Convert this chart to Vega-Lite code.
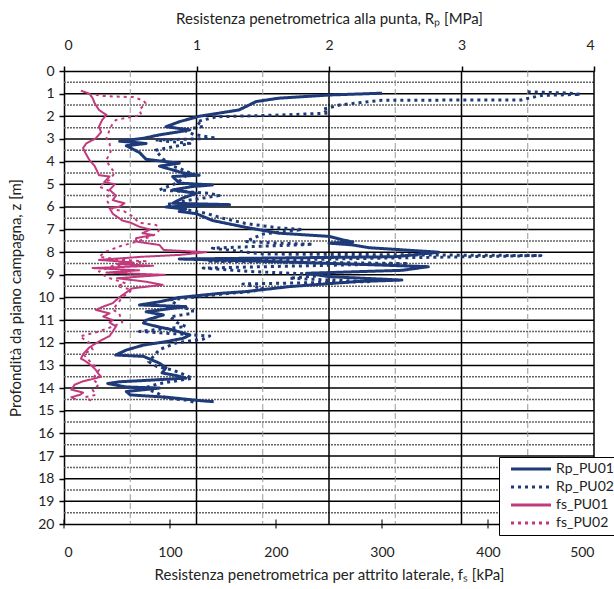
{
  "$schema": "https://vega.github.io/schema/vega-lite/v6.json",
  "width": 530,
  "height": 453,
  "autosize": "none",
  "padding": {"left": 64, "top": 71, "right": 20, "bottom": 65},
  "background": "white",
  "datasets": {
    "gridMajorZ": [{"z":1},{"z":2},{"z":3},{"z":4},{"z":5},{"z":6},{"z":7},{"z":8},{"z":9},{"z":10},{"z":11},{"z":12},{"z":13},{"z":14},{"z":15},{"z":16},{"z":17},{"z":18},{"z":19}],
    "gridMinorZ": [{"z":0.5},{"z":1.5},{"z":2.5},{"z":3.5},{"z":4.5},{"z":5.5},{"z":6.5},{"z":7.5},{"z":8.5},{"z":9.5},{"z":10.5},{"z":11.5},{"z":12.5},{"z":13.5},{"z":14.5},{"z":15.5},{"z":16.5},{"z":17.5},{"z":18.5},{"z":19.5}],
    "gridMajorX": [{"fs":125},{"fs":250},{"fs":375},{"fs":500}],
    "gridMinorX": [{"fs":62.5},{"fs":187.5},{"fs":312.5},{"fs":437.5}],
    "bottomTicks": [{"fs":0,"z":20},{"fs":100,"z":20},{"fs":200,"z":20},{"fs":300,"z":20},{"fs":400,"z":20},{"fs":500,"z":20}],
    "rp": [
      {"s":"Rp_PU01","z":0.98,"v":2.40},{"s":"Rp_PU01","z":1.06,"v":2.00},{"s":"Rp_PU01","z":1.20,"v":1.62},{"s":"Rp_PU01","z":1.35,"v":1.45},{"s":"Rp_PU01","z":1.55,"v":1.38},{"s":"Rp_PU01","z":1.72,"v":1.32},{"s":"Rp_PU01","z":1.86,"v":1.17},{"s":"Rp_PU01","z":2.00,"v":1.02},{"s":"Rp_PU01","z":2.24,"v":0.87},{"s":"Rp_PU01","z":2.35,"v":0.82},{"s":"Rp_PU01","z":2.46,"v":0.77},{"s":"Rp_PU01","z":2.60,"v":0.95},{"s":"Rp_PU01","z":2.70,"v":0.85},{"s":"Rp_PU01","z":2.82,"v":0.72},{"s":"Rp_PU01","z":2.97,"v":0.60},{"s":"Rp_PU01","z":3.10,"v":0.42},{"s":"Rp_PU01","z":3.20,"v":0.62},{"s":"Rp_PU01","z":3.30,"v":0.47},{"s":"Rp_PU01","z":3.60,"v":0.57},{"s":"Rp_PU01","z":3.90,"v":0.62},{"s":"Rp_PU01","z":4.07,"v":0.87},{"s":"Rp_PU01","z":4.20,"v":0.72},{"s":"Rp_PU01","z":4.50,"v":0.90},{"s":"Rp_PU01","z":4.60,"v":1.02},{"s":"Rp_PU01","z":4.66,"v":0.82},{"s":"Rp_PU01","z":4.95,"v":0.87},{"s":"Rp_PU01","z":5.03,"v":1.12},{"s":"Rp_PU01","z":5.10,"v":0.97},{"s":"Rp_PU01","z":5.25,"v":0.82},{"s":"Rp_PU01","z":5.40,"v":1.00},{"s":"Rp_PU01","z":5.60,"v":0.90},{"s":"Rp_PU01","z":5.84,"v":0.82},{"s":"Rp_PU01","z":5.90,"v":1.25},{"s":"Rp_PU01","z":6.00,"v":0.77},{"s":"Rp_PU01","z":6.10,"v":0.92},{"s":"Rp_PU01","z":6.20,"v":0.87},{"s":"Rp_PU01","z":6.30,"v":1.00},{"s":"Rp_PU01","z":6.60,"v":1.12},{"s":"Rp_PU01","z":6.90,"v":1.37},{"s":"Rp_PU01","z":7.16,"v":1.62},{"s":"Rp_PU01","z":7.30,"v":2.00},{"s":"Rp_PU01","z":7.45,"v":2.10},{"s":"Rp_PU01","z":7.55,"v":2.18},{"s":"Rp_PU01","z":7.60,"v":2.00},{"s":"Rp_PU01","z":7.68,"v":2.18},{"s":"Rp_PU01","z":7.80,"v":2.30},{"s":"Rp_PU01","z":8.00,"v":2.83},{"s":"Rp_PU01","z":8.20,"v":2.50},{"s":"Rp_PU01","z":8.30,"v":0.87},{"s":"Rp_PU01","z":8.40,"v":1.50},{"s":"Rp_PU01","z":8.55,"v":2.30},{"s":"Rp_PU01","z":8.64,"v":2.75},{"s":"Rp_PU01","z":8.80,"v":2.55},{"s":"Rp_PU01","z":8.93,"v":1.83},{"s":"Rp_PU01","z":9.08,"v":2.00},{"s":"Rp_PU01","z":9.23,"v":2.55},{"s":"Rp_PU01","z":9.30,"v":2.20},{"s":"Rp_PU01","z":9.52,"v":1.70},{"s":"Rp_PU01","z":9.74,"v":1.37},{"s":"Rp_PU01","z":9.82,"v":1.17},{"s":"Rp_PU01","z":10.00,"v":0.87},{"s":"Rp_PU01","z":10.19,"v":0.72},{"s":"Rp_PU01","z":10.33,"v":0.57},{"s":"Rp_PU01","z":10.40,"v":0.92},{"s":"Rp_PU01","z":10.63,"v":0.62},{"s":"Rp_PU01","z":10.77,"v":0.75},{"s":"Rp_PU01","z":11.00,"v":0.62},{"s":"Rp_PU01","z":11.13,"v":0.60},{"s":"Rp_PU01","z":11.28,"v":0.70},{"s":"Rp_PU01","z":11.43,"v":0.82},{"s":"Rp_PU01","z":11.66,"v":0.95},{"s":"Rp_PU01","z":11.80,"v":0.90},{"s":"Rp_PU01","z":11.95,"v":0.77},{"s":"Rp_PU01","z":12.10,"v":0.60},{"s":"Rp_PU01","z":12.32,"v":0.47},{"s":"Rp_PU01","z":12.54,"v":0.39},{"s":"Rp_PU01","z":12.60,"v":0.60},{"s":"Rp_PU01","z":12.90,"v":0.72},{"s":"Rp_PU01","z":13.10,"v":0.77},{"s":"Rp_PU01","z":13.33,"v":0.74},{"s":"Rp_PU01","z":13.45,"v":0.85},{"s":"Rp_PU01","z":13.56,"v":0.92},{"s":"Rp_PU01","z":13.65,"v":0.65},{"s":"Rp_PU01","z":13.72,"v":0.42},{"s":"Rp_PU01","z":13.80,"v":0.33},{"s":"Rp_PU01","z":13.95,"v":0.47},{"s":"Rp_PU01","z":14.00,"v":0.72},{"s":"Rp_PU01","z":14.15,"v":0.47},{"s":"Rp_PU01","z":14.30,"v":0.50},{"s":"Rp_PU01","z":14.40,"v":0.77},{"s":"Rp_PU01","z":14.55,"v":1.02},{"s":"Rp_PU01","z":14.60,"v":1.13},
      {"s":"Rp_PU02","z":0.92,"v":3.50},{"s":"Rp_PU02","z":0.97,"v":3.80},{"s":"Rp_PU02","z":1.03,"v":3.90},{"s":"Rp_PU02","z":1.08,"v":3.60},{"s":"Rp_PU02","z":1.28,"v":3.45},{"s":"Rp_PU02","z":1.29,"v":2.40},{"s":"Rp_PU02","z":1.50,"v":2.08},{"s":"Rp_PU02","z":1.70,"v":1.95},{"s":"Rp_PU02","z":1.86,"v":2.00},{"s":"Rp_PU02","z":1.95,"v":1.60},{"s":"Rp_PU02","z":2.02,"v":1.15},{"s":"Rp_PU02","z":2.24,"v":1.00},{"s":"Rp_PU02","z":2.45,"v":1.05},{"s":"Rp_PU02","z":2.60,"v":0.90},{"s":"Rp_PU02","z":2.80,"v":0.98},{"s":"Rp_PU02","z":2.97,"v":1.15},{"s":"Rp_PU02","z":3.05,"v":0.69},{"s":"Rp_PU02","z":3.20,"v":0.95},{"s":"Rp_PU02","z":3.50,"v":0.69},{"s":"Rp_PU02","z":3.90,"v":0.75},{"s":"Rp_PU02","z":4.20,"v":0.82},{"s":"Rp_PU02","z":4.30,"v":0.87},{"s":"Rp_PU02","z":4.50,"v":0.95},{"s":"Rp_PU02","z":4.95,"v":0.85},{"s":"Rp_PU02","z":5.25,"v":0.72},{"s":"Rp_PU02","z":5.40,"v":1.10},{"s":"Rp_PU02","z":5.50,"v":1.17},{"s":"Rp_PU02","z":5.70,"v":0.95},{"s":"Rp_PU02","z":5.90,"v":0.77},{"s":"Rp_PU02","z":6.10,"v":0.90},{"s":"Rp_PU02","z":6.28,"v":1.07},{"s":"Rp_PU02","z":6.50,"v":1.20},{"s":"Rp_PU02","z":6.73,"v":1.37},{"s":"Rp_PU02","z":6.93,"v":1.62},{"s":"Rp_PU02","z":7.00,"v":1.80},{"s":"Rp_PU02","z":7.20,"v":1.50},{"s":"Rp_PU02","z":7.53,"v":1.37},{"s":"Rp_PU02","z":7.60,"v":1.62},{"s":"Rp_PU02","z":7.65,"v":1.88},{"s":"Rp_PU02","z":7.82,"v":1.12},{"s":"Rp_PU02","z":8.08,"v":1.50},{"s":"Rp_PU02","z":8.15,"v":3.60},{"s":"Rp_PU02","z":8.25,"v":2.50},{"s":"Rp_PU02","z":8.40,"v":1.10},{"s":"Rp_PU02","z":8.50,"v":2.60},{"s":"Rp_PU02","z":8.70,"v":1.05},{"s":"Rp_PU02","z":8.85,"v":1.40},{"s":"Rp_PU02","z":9.00,"v":2.00},{"s":"Rp_PU02","z":9.15,"v":1.70},{"s":"Rp_PU02","z":9.30,"v":2.30},{"s":"Rp_PU02","z":9.40,"v":1.35},{"s":"Rp_PU02","z":9.60,"v":1.50},{"s":"Rp_PU02","z":9.74,"v":1.42},{"s":"Rp_PU02","z":9.80,"v":1.27},{"s":"Rp_PU02","z":10.10,"v":0.80},{"s":"Rp_PU02","z":10.40,"v":0.87},{"s":"Rp_PU02","z":10.55,"v":0.97},{"s":"Rp_PU02","z":10.70,"v":0.97},{"s":"Rp_PU02","z":10.85,"v":0.80},{"s":"Rp_PU02","z":11.10,"v":0.85},{"s":"Rp_PU02","z":11.28,"v":0.92},{"s":"Rp_PU02","z":11.50,"v":0.57},{"s":"Rp_PU02","z":11.70,"v":1.10},{"s":"Rp_PU02","z":11.84,"v":1.05},{"s":"Rp_PU02","z":12.00,"v":0.85},{"s":"Rp_PU02","z":12.30,"v":0.72},{"s":"Rp_PU02","z":12.84,"v":0.64},{"s":"Rp_PU02","z":13.05,"v":0.70},{"s":"Rp_PU02","z":13.20,"v":0.82},{"s":"Rp_PU02","z":13.56,"v":0.97},{"s":"Rp_PU02","z":13.80,"v":0.72},{"s":"Rp_PU02","z":14.00,"v":0.60},{"s":"Rp_PU02","z":14.20,"v":0.70},{"s":"Rp_PU02","z":14.45,"v":0.77},{"s":"Rp_PU02","z":14.53,"v":0.92},{"s":"Rp_PU02","z":14.65,"v":1.00}
    ],
    "fs": [
      {"s":"fs_PU01","z":0.87,"v":16},{"s":"fs_PU01","z":1.00,"v":24},{"s":"fs_PU01","z":1.20,"v":27},{"s":"fs_PU01","z":1.43,"v":29},{"s":"fs_PU01","z":1.72,"v":33},{"s":"fs_PU01","z":1.94,"v":40},{"s":"fs_PU01","z":2.16,"v":36},{"s":"fs_PU01","z":2.46,"v":33},{"s":"fs_PU01","z":2.70,"v":35},{"s":"fs_PU01","z":2.97,"v":30},{"s":"fs_PU01","z":3.20,"v":21},{"s":"fs_PU01","z":3.40,"v":18},{"s":"fs_PU01","z":3.60,"v":20},{"s":"fs_PU01","z":3.93,"v":24},{"s":"fs_PU01","z":4.20,"v":29},{"s":"fs_PU01","z":4.60,"v":33},{"s":"fs_PU01","z":4.66,"v":43},{"s":"fs_PU01","z":4.90,"v":38},{"s":"fs_PU01","z":5.00,"v":48},{"s":"fs_PU01","z":5.25,"v":43},{"s":"fs_PU01","z":5.50,"v":49},{"s":"fs_PU01","z":5.70,"v":46},{"s":"fs_PU01","z":5.84,"v":57},{"s":"fs_PU01","z":6.00,"v":52},{"s":"fs_PU01","z":6.06,"v":43},{"s":"fs_PU01","z":6.30,"v":46},{"s":"fs_PU01","z":6.60,"v":55},{"s":"fs_PU01","z":6.70,"v":63},{"s":"fs_PU01","z":6.87,"v":71},{"s":"fs_PU01","z":7.00,"v":81},{"s":"fs_PU01","z":7.16,"v":74},{"s":"fs_PU01","z":7.24,"v":84},{"s":"fs_PU01","z":7.38,"v":68},{"s":"fs_PU01","z":7.53,"v":68},{"s":"fs_PU01","z":7.60,"v":78},{"s":"fs_PU01","z":7.68,"v":90},{"s":"fs_PU01","z":7.90,"v":94},{"s":"fs_PU01","z":8.00,"v":134},{"s":"fs_PU01","z":8.12,"v":109},{"s":"fs_PU01","z":8.20,"v":74},{"s":"fs_PU01","z":8.34,"v":33},{"s":"fs_PU01","z":8.45,"v":65},{"s":"fs_PU01","z":8.52,"v":50},{"s":"fs_PU01","z":8.60,"v":84},{"s":"fs_PU01","z":8.70,"v":27},{"s":"fs_PU01","z":8.80,"v":71},{"s":"fs_PU01","z":8.90,"v":40},{"s":"fs_PU01","z":9.00,"v":95},{"s":"fs_PU01","z":9.15,"v":50},{"s":"fs_PU01","z":9.30,"v":77},{"s":"fs_PU01","z":9.44,"v":93},{"s":"fs_PU01","z":9.60,"v":64},{"s":"fs_PU01","z":9.80,"v":58},{"s":"fs_PU01","z":10.00,"v":52},{"s":"fs_PU01","z":10.25,"v":46},{"s":"fs_PU01","z":10.40,"v":37},{"s":"fs_PU01","z":10.55,"v":30},{"s":"fs_PU01","z":10.70,"v":43},{"s":"fs_PU01","z":10.84,"v":37},{"s":"fs_PU01","z":11.00,"v":46},{"s":"fs_PU01","z":11.10,"v":43},{"s":"fs_PU01","z":11.28,"v":49},{"s":"fs_PU01","z":11.50,"v":46},{"s":"fs_PU01","z":11.70,"v":43},{"s":"fs_PU01","z":11.94,"v":33},{"s":"fs_PU01","z":12.20,"v":24},{"s":"fs_PU01","z":12.50,"v":18},{"s":"fs_PU01","z":12.70,"v":16},{"s":"fs_PU01","z":12.80,"v":20},{"s":"fs_PU01","z":13.05,"v":27},{"s":"fs_PU01","z":13.20,"v":30},{"s":"fs_PU01","z":13.40,"v":33},{"s":"fs_PU01","z":13.50,"v":35},{"s":"fs_PU01","z":13.60,"v":27},{"s":"fs_PU01","z":13.70,"v":18},{"s":"fs_PU01","z":13.85,"v":10},{"s":"fs_PU01","z":14.07,"v":7},{"s":"fs_PU01","z":14.20,"v":18},{"s":"fs_PU01","z":14.30,"v":15},{"s":"fs_PU01","z":14.40,"v":7},{"s":"fs_PU01","z":14.50,"v":11},
      {"s":"fs_PU02","z":1.05,"v":30},{"s":"fs_PU02","z":1.10,"v":37},{"s":"fs_PU02","z":1.13,"v":49},{"s":"fs_PU02","z":1.15,"v":65},{"s":"fs_PU02","z":1.30,"v":75},{"s":"fs_PU02","z":1.43,"v":77},{"s":"fs_PU02","z":1.72,"v":71},{"s":"fs_PU02","z":1.94,"v":73},{"s":"fs_PU02","z":2.16,"v":49},{"s":"fs_PU02","z":2.40,"v":45},{"s":"fs_PU02","z":2.60,"v":43},{"s":"fs_PU02","z":2.97,"v":40},{"s":"fs_PU02","z":3.20,"v":43},{"s":"fs_PU02","z":3.56,"v":44},{"s":"fs_PU02","z":3.93,"v":40},{"s":"fs_PU02","z":4.20,"v":43},{"s":"fs_PU02","z":4.50,"v":48},{"s":"fs_PU02","z":4.80,"v":43},{"s":"fs_PU02","z":5.10,"v":33},{"s":"fs_PU02","z":5.30,"v":43},{"s":"fs_PU02","z":5.70,"v":40},{"s":"fs_PU02","z":6.10,"v":46},{"s":"fs_PU02","z":6.20,"v":57},{"s":"fs_PU02","z":6.40,"v":64},{"s":"fs_PU02","z":6.70,"v":71},{"s":"fs_PU02","z":6.80,"v":87},{"s":"fs_PU02","z":7.00,"v":90},{"s":"fs_PU02","z":7.20,"v":87},{"s":"fs_PU02","z":7.50,"v":71},{"s":"fs_PU02","z":7.75,"v":52},{"s":"fs_PU02","z":7.97,"v":40},{"s":"fs_PU02","z":8.20,"v":33},{"s":"fs_PU02","z":8.27,"v":43},{"s":"fs_PU02","z":8.33,"v":50},{"s":"fs_PU02","z":8.40,"v":77},{"s":"fs_PU02","z":8.60,"v":46},{"s":"fs_PU02","z":8.85,"v":33},{"s":"fs_PU02","z":9.10,"v":40},{"s":"fs_PU02","z":9.37,"v":58},{"s":"fs_PU02","z":9.50,"v":50},{"s":"fs_PU02","z":9.66,"v":64},{"s":"fs_PU02","z":10.00,"v":55},{"s":"fs_PU02","z":10.54,"v":46},{"s":"fs_PU02","z":10.70,"v":52},{"s":"fs_PU02","z":11.10,"v":55},{"s":"fs_PU02","z":11.28,"v":46},{"s":"fs_PU02","z":11.50,"v":33},{"s":"fs_PU02","z":11.65,"v":21},{"s":"fs_PU02","z":11.72,"v":15},{"s":"fs_PU02","z":12.00,"v":24},{"s":"fs_PU02","z":12.30,"v":27},{"s":"fs_PU02","z":12.50,"v":18},{"s":"fs_PU02","z":12.80,"v":24},{"s":"fs_PU02","z":13.20,"v":33},{"s":"fs_PU02","z":13.60,"v":27},{"s":"fs_PU02","z":13.85,"v":33},{"s":"fs_PU02","z":14.07,"v":27},{"s":"fs_PU02","z":14.30,"v":30},{"s":"fs_PU02","z":14.40,"v":20},{"s":"fs_PU02","z":14.60,"v":27}
    ]
  },
  "config": {
    "view": {"stroke": null},
    "font": "Lato",
    "axis": {
      "labelFont": "Lato", "titleFont": "Lato",
      "labelColor": "#222", "titleColor": "#222",
      "titleFontWeight": "normal", "labelFontSize": 14, "titleFontSize": 15,
      "domainColor": "#000", "tickColor": "#000", "domainWidth": 1.5, "tickWidth": 1.5,
      "grid": false
    },
    "legend": {
      "orient": "none", "legendX": 435, "legendY": 386,
      "fillColor": "white", "strokeColor": "#000", "padding": 5,
      "symbolType": "M0,0H8", "symbolSize": 100, "symbolStrokeWidth": 3, "symbolFillColor": "transparent",
      "labelFont": "Lato", "labelFontSize": 14, "labelColor": "#222",
      "rowPadding": 4, "labelOffset": 38, "title": null, "cornerRadius": 0
    }
  },
  "layer": [
    {
      "layer": [
        {
          "data": {"name": "gridMinorZ"},
          "mark": {"type": "rule", "color": "#666", "strokeWidth": 1.5, "strokeDash": [2, 1]},
          "encoding": {
            "y": {
              "field": "z", "type": "quantitative",
              "scale": {"domain": [0, 20], "reverse": true},
              "axis": {
                "orient": "left", "values": [0,1,2,3,4,5,6,7,8,9,10,11,12,13,14,15,16,17,18,19,20],
                "tickSize": 5, "labelPadding": 5, "titlePadding": 14,
                "title": "Profondità da piano campagna, z [m]"
              }
            }
          }
        },
        {
          "data": {"name": "gridMajorZ"},
          "mark": {"type": "rule", "color": "#000", "strokeWidth": 1.5},
          "encoding": {"y": {"field": "z", "type": "quantitative", "axis": null}}
        },
        {
          "data": {"name": "gridMinorX"},
          "mark": {"type": "rule", "color": "#9a9a9a", "strokeWidth": 1, "strokeDash": [6, 3]},
          "encoding": {
            "x": {
              "field": "fs", "type": "quantitative",
              "scale": {"domain": [0, 500], "nice": false},
              "axis": {
                "orient": "bottom", "values": [0, 100, 200, 300, 400, 500], "ticks": false,
                "labelPadding": 21, "titlePadding": 8,
                "title": "Resistenza penetrometrica per attrito laterale, fₛ [kPa]"
              }
            }
          }
        },
        {
          "data": {"name": "gridMajorX"},
          "mark": {"type": "rule", "color": "#000", "strokeWidth": 1.5},
          "encoding": {"x": {"field": "fs", "type": "quantitative", "axis": null}}
        },
        {
          "data": {"name": "bottomTicks"},
          "mark": {"type": "tick", "orient": "vertical", "color": "#000", "size": 9, "thickness": 1.5},
          "encoding": {
            "x": {"field": "fs", "type": "quantitative", "axis": null},
            "y": {"field": "z", "type": "quantitative", "axis": null}
          }
        },
        {
          "data": {"name": "fs"},
          "mark": {"type": "line", "strokeWidth": 2, "strokeJoin": "round"},
          "encoding": {
            "x": {"field": "v", "type": "quantitative", "axis": null},
            "y": {"field": "z", "type": "quantitative", "axis": null},
            "order": {"field": "z", "type": "quantitative"},
            "color": {
              "field": "s", "type": "nominal",
              "scale": {"domain": ["Rp_PU01", "Rp_PU02", "fs_PU01", "fs_PU02"], "range": ["#1f3a78", "#1f3a78", "#c23a7d", "#c23a7d"]}
            },
            "strokeDash": {
              "field": "s", "type": "nominal",
              "scale": {"domain": ["Rp_PU01", "Rp_PU02", "fs_PU01", "fs_PU02"], "range": [[1, 0], [3, 4], [1, 0], [3, 4]]}
            }
          }
        }
      ],
      "resolve": {"axis": {"x": "independent", "y": "independent"}}
    },
    {
      "data": {"name": "rp"},
      "mark": {"type": "line", "strokeWidth": 3, "strokeJoin": "round"},
      "encoding": {
        "x": {
          "field": "v", "type": "quantitative",
          "scale": {"domain": [0, 4], "nice": false},
          "axis": {
            "orient": "top", "values": [0, 1, 2, 3, 4], "tickSize": 5,
            "labelPadding": 14, "titlePadding": 12,
            "title": "Resistenza penetrometrica alla punta, Rₚ [MPa]"
          }
        },
        "y": {"field": "z", "type": "quantitative", "axis": null},
        "order": {"field": "z", "type": "quantitative"},
        "color": {"field": "s", "type": "nominal"},
        "strokeDash": {"field": "s", "type": "nominal"}
      }
    }
  ],
  "resolve": {"scale": {"x": "independent"}, "axis": {"x": "independent", "y": "independent"}}
}
